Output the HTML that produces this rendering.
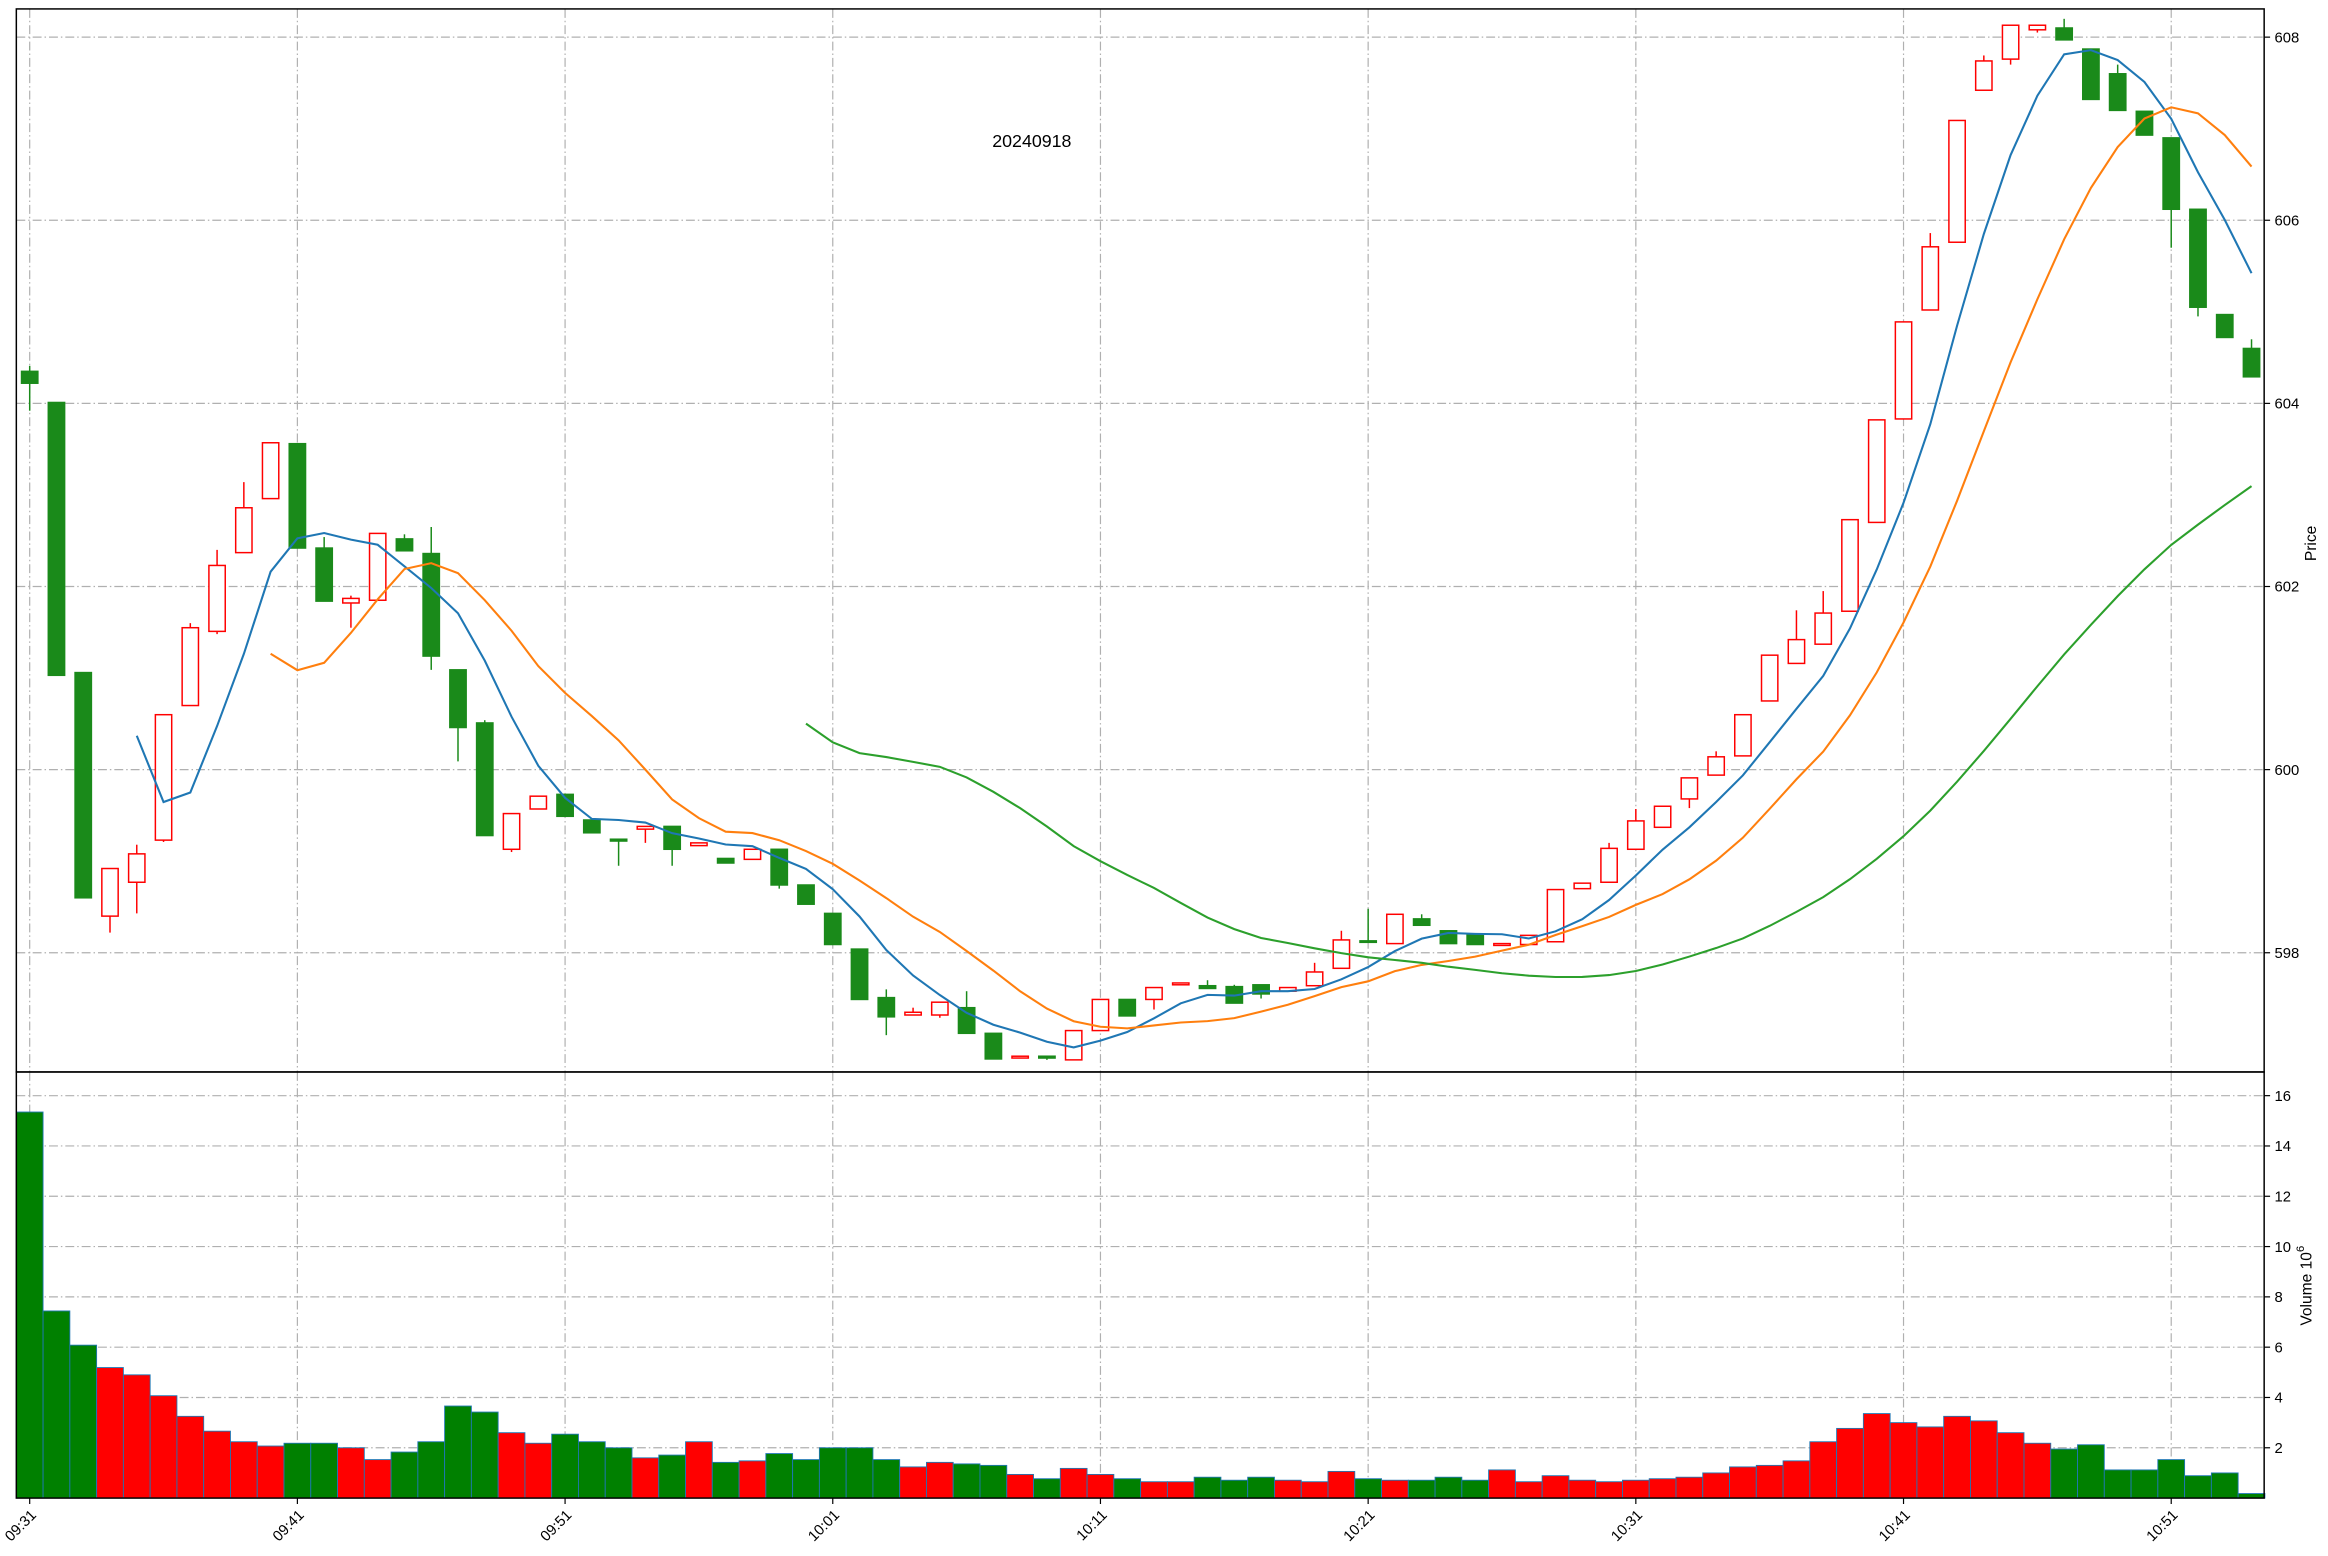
<!DOCTYPE html>
<html><head><meta charset="utf-8">
<style>
html,body{margin:0;padding:0;background:#fff;}
svg{display:block;font-family:"Liberation Sans","DejaVu Sans",sans-serif;}
</style></head>
<body>
<svg id="chart" width="2328" height="1556" viewBox="0 0 1568 1048" xmlns="http://www.w3.org/2000/svg">
<rect x="0" y="0" width="1568" height="1048" fill="#fff"/>
<g id="grid"></g>
<g id="marks"></g>
<g id="axes"></g>
<text x="695" y="99" font-size="12" text-anchor="middle">20240918</text>
<text transform="translate(1560,366) rotate(-90)" font-size="10.5" text-anchor="middle">Price</text>
<text transform="translate(1557,866) rotate(-90)" font-size="10.5" text-anchor="middle">Volume  10<tspan font-size="7.5" dy="-5">6</tspan></text>
</svg>
<script>
const labels = ["09:31","09:41","09:51","10:01","10:11","10:21","10:31","10:41","10:51"];
const opens = [604.35,604.01,601.06,598.40,598.77,599.23,600.70,601.51,602.37,602.96,603.56,602.42,601.82,601.85,602.52,602.36,601.09,600.51,599.13,599.57,599.73,599.45,599.24,599.35,599.38,599.17,599.03,599.02,599.13,598.74,598.43,598.04,597.51,597.32,597.32,597.40,597.12,596.85,596.87,596.83,597.15,597.49,597.49,597.65,597.64,597.63,597.65,597.58,597.64,597.83,598.13,598.10,598.37,598.24,598.20,598.08,598.09,598.12,598.70,598.77,599.13,599.37,599.68,599.94,600.15,600.75,601.16,601.37,601.73,602.70,603.83,605.02,605.76,607.42,607.76,608.08,608.10,607.87,607.60,607.19,606.90,606.12,604.97,604.60];
const closes = [604.22,601.03,598.60,598.92,599.08,600.60,601.55,602.23,602.86,603.57,602.42,601.84,601.87,602.58,602.39,601.24,600.46,599.28,599.52,599.71,599.49,599.31,599.22,599.38,599.13,599.20,598.98,599.13,598.74,598.53,598.09,597.49,597.30,597.35,597.46,597.12,596.84,596.87,596.85,597.15,597.49,597.31,597.62,597.67,597.61,597.45,597.55,597.62,597.79,598.14,598.12,598.42,598.30,598.10,598.09,598.10,598.19,598.69,598.76,599.14,599.44,599.60,599.91,600.14,600.60,601.25,601.42,601.71,602.73,603.82,604.89,605.71,607.09,607.74,608.13,608.13,607.97,607.32,607.20,606.93,606.12,605.05,604.72,604.29];
const highs = [604.41,604.01,601.06,598.92,599.18,600.60,601.60,602.40,603.14,603.57,603.56,602.54,601.90,602.58,602.57,602.65,601.09,600.54,599.52,599.71,599.73,599.45,599.24,599.38,599.38,599.20,599.03,599.13,599.13,598.74,598.43,598.04,597.60,597.40,597.46,597.58,597.12,596.87,596.87,597.15,597.49,597.49,597.62,597.67,597.70,597.65,597.65,597.62,597.89,598.24,598.48,598.42,598.42,598.24,598.20,598.10,598.19,598.69,598.76,599.20,599.57,599.60,599.91,600.20,600.60,601.25,601.74,601.95,602.73,603.82,604.89,605.86,607.09,607.80,608.13,608.13,608.20,607.87,607.70,607.19,606.90,606.12,604.97,604.70];
const lows = [603.92,601.03,598.60,598.22,598.43,599.21,600.70,601.48,602.37,602.96,602.42,601.84,601.55,601.85,602.39,601.09,600.09,599.28,599.10,599.57,599.49,599.31,598.95,599.20,598.95,599.17,598.98,599.02,598.70,598.53,598.09,597.49,597.10,597.32,597.29,597.12,596.84,596.85,596.83,596.83,597.15,597.31,597.38,597.65,597.61,597.45,597.50,597.58,597.64,597.83,598.12,598.10,598.30,598.10,598.09,598.08,598.09,598.12,598.70,598.77,599.13,599.37,599.58,599.94,600.15,600.75,601.16,601.37,601.73,602.70,603.83,605.02,605.76,607.42,607.70,608.05,607.97,607.32,607.20,606.93,605.70,604.95,604.72,604.29];
const volumes = [15.35,7.44,6.08,5.19,4.90,4.07,3.25,2.66,2.24,2.07,2.18,2.18,2.00,1.53,1.83,2.24,3.66,3.42,2.60,2.18,2.54,2.24,2.00,1.60,1.71,2.24,1.42,1.48,1.77,1.53,2.00,2.00,1.53,1.24,1.42,1.36,1.30,0.94,0.77,1.18,0.94,0.77,0.65,0.65,0.83,0.71,0.83,0.71,0.65,1.06,0.77,0.71,0.71,0.83,0.71,1.12,0.65,0.89,0.71,0.65,0.71,0.77,0.83,1.00,1.24,1.30,1.48,2.24,2.77,3.36,3.00,2.83,3.25,3.07,2.60,2.18,1.95,2.12,1.12,1.12,1.53,0.89,1.00,0.18];
const priceTicks = [598,600,602,604,606,608];
const volTicks = [2,4,6,8,10,12,14,16];
const maPeriods = [5,10,30];
const maColors = ["#1f77b4","#ff7f0e","#2ca02c"];

const NS = "http://www.w3.org/2000/svg";
const L = 11, R = 1525, T = 6, MB = 722, VB = 1009;
const step = 18.03, x0 = 20;
function xs(i){ return x0 + step*i; }
function yp(p){ return 25 + (608 - p)*61.67; }
function yv(v){ return VB - v*16.94; }
function mk(tag, attrs, parent){
  const e = document.createElementNS(NS, tag);
  for (const k in attrs) e.setAttribute(k, attrs[k]);
  parent.appendChild(e);
  return e;
}
const grid = document.getElementById('grid');
const marks = document.getElementById('marks');
const axes = document.getElementById('axes');
const gs = {stroke:"#b0b0b0","stroke-width":0.8,"stroke-dasharray":"6 2 1 2",fill:"none"};

// vertical grid + x ticks
labels.forEach((lab, k) => {
  const x = xs(k*10);
  const g1 = mk('line', Object.assign({x1:x,x2:x,y1:T,y2:MB}, gs), grid);
  
  
  const g2 = mk('line', Object.assign({x1:x,x2:x,y1:MB,y2:VB}, gs), grid);
  
  
  const t = mk('line', {x1:x,x2:x,y1:VB,y2:VB+4,stroke:"#000","stroke-width":0.8}, axes);
  
  
  const tx = mk('text', {transform:`translate(${x+5},${VB+12}) rotate(-45)`, "font-size":10, "text-anchor":"end"}, axes);
  tx.textContent = lab;
  
  
});
priceTicks.forEach(p => {
  const y = yp(p);
  const g = mk('line', Object.assign({x1:L,x2:R,y1:y,y2:y}, gs), grid);
  
  
  const t = mk('line', {x1:R,x2:R+4,y1:y,y2:y,stroke:"#000","stroke-width":0.8}, axes);
  
  
  const tx = mk('text', {x:R+7,y:y+3.5,"font-size":10}, axes);
  tx.textContent = p;
  
  
});
volTicks.forEach(v => {
  const y = yv(v);
  const g = mk('line', Object.assign({x1:L,x2:R,y1:y,y2:y}, gs), grid);
  
  
  const t = mk('line', {x1:R,x2:R+4,y1:y,y2:y,stroke:"#000","stroke-width":0.8}, axes);
  
  
  const tx = mk('text', {x:R+7,y:y+3.5,"font-size":10}, axes);
  tx.textContent = v;
  
  
});

// volume bars
volumes.forEach((v, i) => {
  const up = closes[i] >= opens[i];
  const b = mk('rect', {x:xs(i)-step/2, y:yv(v), width:step, height:VB-yv(v), fill: up?"#ff0000":"#008000", stroke:"#1f77b4","stroke-width":0.6}, marks);
  
  
});

// candles
const cw = 11;
opens.forEach((o, i) => {
  const c = closes[i];
  const up = c >= o;
  const col = up ? "#ff0000" : "#1a8a1a";
  const top = yp(Math.max(o,c)), bot = yp(Math.min(o,c));
  const w = mk('line', {x1:xs(i),x2:xs(i),y1:yp(highs[i]),y2:yp(lows[i]),stroke:col,"stroke-width":1}, marks);
  
  
  const b = mk('rect', {x:xs(i)-cw/2, y:top, width:cw, height:Math.max(bot-top,1), fill: up?"#fff":col, stroke:col, "stroke-width":1}, marks);
  
  
});

// moving averages
maPeriods.forEach((n, k) => {
  const pts = [];
  for (let i = n-1; i < closes.length; i++) {
    let s = 0; for (let j = i-n+1; j <= i; j++) s += closes[j];
    pts.push(xs(i).toFixed(2) + "," + yp(s/n).toFixed(2));
  }
  const pl = mk('polyline', {points:pts.join(" "), fill:"none", stroke:maColors[k], "stroke-width":1.4}, marks);
  
  
});

// frames
const f1 = mk('rect', {x:L,y:T,width:R-L,height:MB-T,fill:"none",stroke:"#000","stroke-width":1}, axes);


const f2 = mk('rect', {x:L,y:MB,width:R-L,height:VB-MB,fill:"none",stroke:"#000","stroke-width":1}, axes);


</script>
</body></html>
